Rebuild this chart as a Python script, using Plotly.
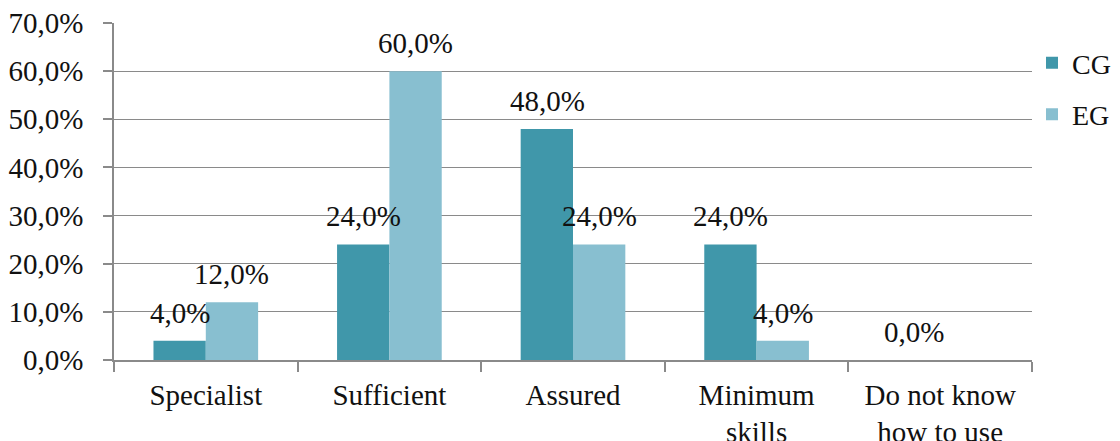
import plotly.graph_objects as go

categories = ["Specialist", "Sufficient", "Assured", "Minimum<br>skills", "Do not know<br>how to use"]
cg_values = [4.0, 24.0, 48.0, 24.0, 0.0]
eg_values = [12.0, 60.0, 24.0, 4.0, None]
y_ticks = [0, 10, 20, 30, 40, 50, 60, 70]


def pct(v):
    return f"{v:.1f}%".replace(".", ",")


FONT = '"Liberation Serif", "Times New Roman", serif'
CG_COLOR = "#4097AA"
EG_COLOR = "#88BFD0"
GRID = "#8a8a8a"
FS = 29

fig = go.Figure()
fig.add_trace(go.Bar(name="CG", x=categories, y=cg_values,
                     marker=dict(color=CG_COLOR, line=dict(width=0)), legendgroup="cg"))
fig.add_trace(go.Bar(name="EG", x=categories, y=eg_values,
                     marker=dict(color=EG_COLOR, line=dict(width=0)), legendgroup="eg"))

# value labels above each bar, offset to the left/right bar of each group
for values, shift in ((cg_values, -26), (eg_values, 26)):
    for cat, v in zip(categories, values):
        if v is None:
            continue
        fig.add_annotation(x=cat, y=v, xref="x", yref="y", text=pct(v),
                           showarrow=False, xshift=shift, yshift=10,
                           yanchor="bottom", xanchor="center",
                           font=dict(family=FONT, size=FS, color="#111111"))

fig.update_layout(
    width=1120, height=441,
    margin=dict(l=114, r=88, t=23, b=81, autoexpand=False),
    paper_bgcolor="white", plot_bgcolor="white",
    barmode="group", bargap=0.43, bargroupgap=0,
    font=dict(family=FONT, size=FS, color="#111111"),
    showlegend=True,
    legend=dict(x=1.0, xanchor="left", y=0.955, yanchor="top",
                font=dict(family=FONT, size=28), tracegroupgap=12,
                itemwidth=30, bgcolor="rgba(0,0,0,0)"),
)
fig.update_yaxes(
    range=[0, 70], tickvals=y_ticks, ticktext=[pct(t) for t in y_ticks],
    showgrid=True, gridcolor=GRID, gridwidth=1,
    showline=True, linecolor=GRID, linewidth=1.5,
    ticks="outside", ticklen=9, tickcolor=GRID, tickwidth=1.5,
    ticklabelstandoff=14, zeroline=False, automargin=False,
)
fig.update_xaxes(
    showline=True, linecolor=GRID, linewidth=1.5,
    ticks="outside", ticklen=10, tickcolor=GRID, tickwidth=1.5,
    tickson="boundaries", ticklabelstandoff=8, automargin=False,
)

fig.write_html("out.html")
